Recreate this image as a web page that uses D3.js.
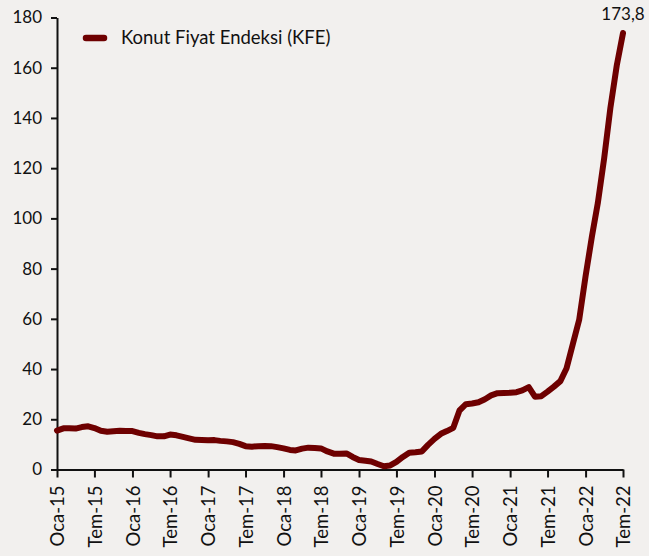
<!DOCTYPE html>
<html>
<head>
<meta charset="utf-8">
<script src="https://cdn.jsdelivr.net/npm/d3@7"></script>
<style>
  html, body { margin: 0; padding: 0; background: #f2f0ee; }
  svg { display: block; }
</style>
</head>
<body>
<script>
let width = 649
let height = 556
let lineColor = '#6e0000'
let axisColor = '#111'

// monthly KFE values, Oca-15 .. Tem-22
let kfe2015 = [15.5, 16.4, 16.4, 16.3, 16.9, 17.2, 16.5, 15.4, 15.0, 15.2, 15.4, 15.3]
let kfe2016 = [15.3, 14.6, 14.1, 13.7, 13.2, 13.2, 13.9, 13.6, 13.0, 12.4, 11.8, 11.7]
let kfe2017 = [11.6, 11.7, 11.4, 11.2, 10.9, 10.2, 9.3, 9.1, 9.3, 9.4, 9.3, 8.9]
let kfe2018 = [8.4, 7.8, 7.6, 8.3, 8.7, 8.6, 8.4, 7.2, 6.3, 6.3, 6.4, 5.0]
let kfe2019 = [3.8, 3.5, 3.2, 2.2, 1.3, 1.6, 3.0, 5.0, 6.7, 6.9, 7.2, 9.8]
let kfe2020 = [12.2, 14.2, 15.3, 16.6, 23.5, 26.0, 26.3, 26.8, 28.0, 29.5, 30.4, 30.5]
let kfe2021 = [30.6, 30.8, 31.5, 32.8, 29.0, 29.2, 31.0, 33.0, 35.2, 40.3, 50.2, 59.6]
let kfe2022 = [77.0, 93.0, 106.0, 124.0, 144.0, 161.0, 173.8]
let values = [].concat(kfe2015, kfe2016, kfe2017, kfe2018, kfe2019, kfe2020, kfe2021, kfe2022)

let xTickLabels = ['Oca-15', 'Tem-15', 'Oca-16', 'Tem-16', 'Oca-17', 'Tem-17', 'Oca-18', 'Tem-18',
  'Oca-19', 'Tem-19', 'Oca-20', 'Tem-20', 'Oca-21', 'Tem-21', 'Oca-22', 'Tem-22']
let yTicks = [0, 20, 40, 60, 80, 100, 120, 140, 160, 180]
let seriesName = 'Konut Fiyat Endeksi (KFE)'
let lastLabel = '173,8'

let dates = d3.timeMonth.range(new Date(2015, 0, 1), new Date(2022, 7, 1))
let data = dates.map((d, i) => ({date: d, value: values[i]}))
let tickDates = d3.timeMonth.every(6).range(new Date(2015, 0, 1), new Date(2022, 7, 1))

let x = d3.scaleTime()
  .domain([dates[0], dates[dates.length - 1]])
  .range([57, 623])
let y = d3.scaleLinear()
  .domain([0, 180])
  .range([469.5, 17.5])

let svg = d3.select('body').append('svg')
  .attr('width', width)
  .attr('height', height)

svg.append('rect')
  .attr('width', width)
  .attr('height', height)
  .attr('fill', '#f2f0ee')

// y axis
let yAxis = svg.append('g')
  .attr('transform', `translate(${x.range()[0]},0)`)
  .call(d3.axisLeft(y).tickValues(yTicks).tickSize(6).tickSizeOuter(0).tickPadding(9))
yAxis.select('.domain').attr('stroke', axisColor).attr('stroke-width', 2)
yAxis.selectAll('.tick line').attr('stroke', axisColor).attr('stroke-width', 2)
yAxis.selectAll('.tick text')
  .attr('fill', '#111')
  .style('font-family', 'Lato, "Open Sans", sans-serif')
  .style('font-size', '17px')

// x axis
let xAxis = svg.append('g')
  .attr('transform', `translate(0,${y(0)})`)
  .call(d3.axisBottom(x).tickValues(tickDates).tickSize(8).tickSizeOuter(0)
    .tickFormat((d, i) => xTickLabels[i]))
xAxis.select('.domain').attr('stroke', axisColor).attr('stroke-width', 2)
xAxis.selectAll('.tick line').attr('stroke', axisColor).attr('stroke-width', 2)
xAxis.selectAll('.tick text')
  .attr('fill', '#111')
  .attr('text-anchor', 'end')
  .attr('transform', 'rotate(-90)')
  .attr('x', -16)
  .attr('y', 0)
  .attr('dy', '0.36em')
  .style('font-family', 'Lato, "Open Sans", sans-serif')
  .style('font-size', '18.5px')

// series line
let line = d3.line()
  .x(d => x(d.date))
  .y(d => y(d.value))
svg.append('path')
  .datum(data)
  .attr('d', line)
  .attr('fill', 'none')
  .attr('stroke', lineColor)
  .attr('stroke-width', 6)
  .attr('stroke-linejoin', 'round')
  .attr('stroke-linecap', 'round')

// last value label
let last = data[data.length - 1]
svg.append('text')
  .attr('x', x(last.date))
  .attr('y', y(last.value) - 13)
  .attr('text-anchor', 'middle')
  .attr('fill', '#111')
  .style('font-family', 'Lato, "Open Sans", sans-serif')
  .style('font-size', '17px')
  .text(lastLabel)

// legend
let legend = svg.append('g')
legend.append('line')
  .attr('x1', 86).attr('x2', 104)
  .attr('y1', 38).attr('y2', 38)
  .attr('stroke', lineColor)
  .attr('stroke-width', 6.5)
  .attr('stroke-linecap', 'round')
legend.append('text')
  .attr('x', 121)
  .attr('y', 38)
  .attr('dy', '0.35em')
  .attr('fill', '#111')
  .style('font-family', 'Lato, "Open Sans", sans-serif')
  .style('font-size', '18.5px')
  .text(seriesName)
</script>
</body>
</html>
